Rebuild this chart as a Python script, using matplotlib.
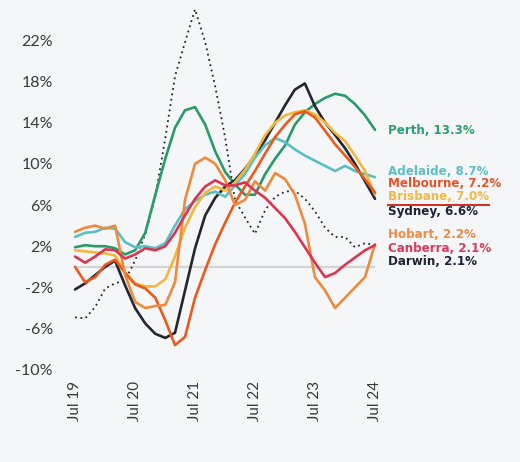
import matplotlib.pyplot as plt
import matplotlib.dates as mdates
import pandas as pd

# bi-monthly dwelling value growth (annual %), Jul 2019 - Jul 2024
dates = pd.date_range('2019-07-01', '2024-07-01', freq='2MS')

perth = [1.9, 2.1, 2.0, 2.0, 1.8, 1.2, 1.6, 3.3, 7.0, 10.5, 13.5, 15.2, 15.5, 13.8, 11.2, 9.2,
         8.0, 7.0, 7.0, 9.0, 10.5, 11.8, 13.8, 15.0, 15.8, 16.4, 16.8, 16.6, 15.8, 14.7, 13.3]
adelaide = [2.9, 3.3, 3.4, 3.8, 3.7, 2.4, 1.9, 2.0, 1.8, 2.3, 4.0, 5.6, 6.4, 7.0, 7.3, 6.8,
            7.9, 9.0, 10.6, 11.8, 12.5, 12.1, 11.4, 10.8, 10.3, 9.8, 9.3, 9.8, 9.3, 9.0, 8.7]
melbourne = [0.0, -1.5, -1.0, 0.2, 0.7, -0.6, -1.7, -2.1, -3.0, -5.2, -7.6, -6.8, -3.0, -0.3, 2.2, 4.3,
             6.2, 7.8, 9.3, 11.0, 12.6, 13.8, 14.8, 15.1, 14.5, 13.2, 11.9, 10.8, 9.7, 8.5, 7.2]
brisbane = [1.6, 1.5, 1.4, 1.3, 1.1, -0.5, -1.6, -1.9, -1.9, -1.2, 1.0, 3.8, 5.8, 7.2, 7.8, 7.4,
            8.2, 9.4, 11.0, 12.8, 14.0, 14.7, 15.0, 15.2, 14.8, 14.0, 13.0, 12.2, 10.8, 9.3, 7.0]
sydney = [-2.2, -1.6, -0.8, 0.0, 0.6, -1.8, -4.0, -5.5, -6.5, -6.9, -6.4, -2.3, 1.8, 5.0, 6.7, 7.8,
          8.4, 9.5, 10.8, 12.3, 14.0, 15.7, 17.2, 17.8, 15.6, 14.0, 12.8, 11.5, 10.0, 8.3, 6.6]
hobart = [3.4, 3.8, 4.0, 3.7, 4.0, -0.8, -3.4, -4.0, -3.8, -3.7, -1.5, 6.5, 10.0, 10.6, 10.0, 8.4,
          6.0, 6.5, 8.3, 7.4, 9.1, 8.5, 7.0, 4.2, -1.0, -2.3, -4.0, -3.0, -2.0, -1.0, 2.2]
canberra = [1.0, 0.4, 1.0, 1.7, 1.6, 0.8, 1.2, 1.8, 1.6, 2.0, 3.3, 5.0, 6.6, 7.8, 8.4, 7.9,
            7.9, 8.2, 7.4, 6.7, 5.7, 4.7, 3.4, 1.9, 0.4, -1.0, -0.6, 0.2, 0.9, 1.6, 2.1]
darwin = [-4.9, -5.0, -3.9, -2.1, -1.6, -1.3, 0.6, 3.2, 6.8, 12.5, 18.5, 21.8, 25.0, 21.8, 17.5, 12.5,
          6.5, 4.8, 3.2, 5.5, 6.8, 7.3, 7.4, 6.6, 5.4, 3.8, 2.9, 2.9, 1.9, 2.3, 2.1]

cities = ['Perth', 'Adelaide', 'Melbourne', 'Brisbane', 'Sydney', 'Hobart', 'Canberra', 'Darwin']
series = [perth, adelaide, melbourne, brisbane, sydney, hobart, canberra, darwin]
line_colors = ['#2a9a68', '#5bbfc2', '#e85a1e', '#f3b73f', '#22262e', '#ef8a3c', '#dc3552', '#22262e']
label_colors = ['#2f9e6e', '#5cbfc6', '#e2532a', '#f0b84a', '#1e2433', '#ef8a45', '#d93b5c', '#1e2433']
# where each end label sits (labels are spread out so they do not overlap)
label_y = [13.2, 9.3, 8.05, 6.8, 5.35, 3.1, 1.75, 0.5]

bg = '#f5f6f8'
fig = plt.figure(figsize=(5.2, 4.62), dpi=100, facecolor=bg)
ax = fig.add_axes([75 / 520, 87 / 462, 300 / 520, 375 / 462], facecolor=bg)

ax.axhline(0, color='#d4d4d6', lw=1.6, zorder=1)

order = [7, 0, 4, 1, 3, 2, 5, 6]
for i in order:
    style = (0, (1, 2)) if cities[i] == 'Darwin' else '-'
    lw = 1.3 if cities[i] == 'Darwin' else 1.9
    ax.plot(dates, series[i], color=line_colors[i], lw=lw, ls=style,
            clip_on=False, zorder=3, solid_capstyle='round')

texts = []
for i, c in enumerate(cities):
    t = ax.annotate(f'{c}, {series[i][-1]:.1f}%', xy=(dates[-1], label_y[i]),
                    xytext=(9, 0), textcoords='offset points', va='center', ha='left',
                    fontsize=8.6, fontweight='bold', color=label_colors[i],
                    family='DejaVu Sans', annotation_clip=False)
    texts.append(t)

ax.set_xlim(dates[0], dates[-1])
ax.set_ylim(-10.5, 25.9)
yt = list(range(-10, 23, 4))
ax.set_yticks(yt)
ax.set_yticklabels([f'{v}%' for v in yt])
xt = pd.date_range('2019-07-01', '2024-07-01', freq='12MS')
ax.set_xticks(xt)
ax.xaxis.set_major_formatter(mdates.DateFormatter('Jul %y'))
ax.tick_params(axis='y', length=0, pad=16, labelsize=11.5, labelcolor='#3a3a3a')
ax.tick_params(axis='x', length=0, pad=4, labelsize=11, labelcolor='#3a3a3a', labelrotation=90)
for lab in ax.get_xticklabels() + ax.get_yticklabels():
    lab.set_family('Lato')
for s in ax.spines.values():
    s.set_visible(False)

# red underline below the Brisbane label, as in the source image
fig.canvas.draw()
bb = texts[3].get_window_extent()
inv = fig.transFigure.inverted()
(x0, y0), (x1, _) = inv.transform([(bb.x0, bb.y0 - 1.5), (bb.x1, bb.y0)])
fig.add_artist(plt.Line2D([x0, x1], [y0, y0], color='#d42a1e', lw=1.4))

fig.savefig('out.png', dpi=100, facecolor=bg)
